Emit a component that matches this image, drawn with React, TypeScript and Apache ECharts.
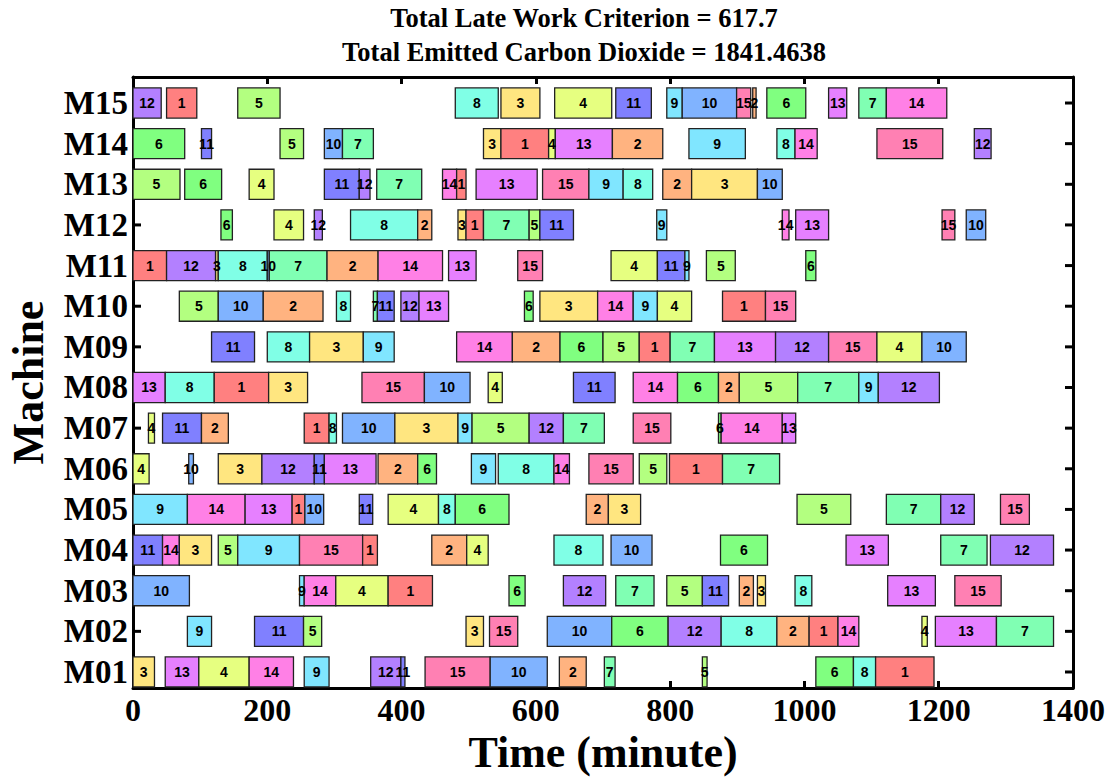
import React, { useEffect, useRef } from "react";
import * as echarts from "echarts";

// Each entry: [job, start (min), end (min)]
const M01 = [[3,0,32],[13,48,98],[4,98,173],[14,173,239],[9,255,292],[12,354,399],[11,399,405],[15,435,532],[10,532,617],[2,635,675],[7,702,718],[5,848,855],[6,1017,1073],[8,1073,1106],[1,1106,1193]];
const M02 = [[9,81,117],[11,181,254],[5,254,281],[3,496,522],[15,531,573],[10,617,713],[6,713,797],[12,797,876],[8,876,959],[2,959,1007],[1,1007,1050],[14,1050,1081],[4,1175,1183],[13,1195,1286],[7,1286,1371]];
const M03 = [[10,0,84],[9,248,255],[14,255,302],[4,302,380],[1,380,446],[6,560,584],[12,641,704],[7,719,776],[5,795,848],[11,848,887],[2,903,924],[3,930,942],[8,986,1011],[13,1124,1195],[15,1224,1293]];
const M04 = [[11,0,44],[14,44,69],[3,69,117],[5,127,156],[9,156,248],[15,248,342],[1,342,364],[2,445,497],[4,497,529],[8,627,700],[10,712,773],[6,875,945],[13,1062,1125],[7,1203,1272],[12,1277,1371]];
const M05 = [[9,0,81],[14,81,167],[13,167,237],[1,237,256],[10,256,284],[11,337,357],[4,380,455],[8,455,480],[6,480,560],[2,675,708],[3,708,756],[5,989,1069],[7,1122,1203],[12,1203,1253],[15,1292,1335]];
const M06 = [[4,0,24],[10,83,90],[3,127,192],[12,192,270],[11,270,285],[13,285,362],[2,365,424],[6,424,452],[9,504,540],[8,544,627],[14,627,650],[15,679,745],[5,754,795],[1,799,878],[7,878,963]];
const M07 = [[4,23,32],[11,44,102],[2,102,142],[1,255,292],[8,292,303],[10,312,390],[3,390,484],[9,484,505],[5,505,590],[12,590,641],[7,641,702],[15,745,801],[6,872,876],[14,876,967],[13,967,987]];
const M08 = [[13,0,48],[8,48,121],[1,121,202],[3,202,260],[15,341,434],[10,434,502],[4,529,550],[11,656,718],[14,745,811],[6,811,872],[2,872,903],[5,903,990],[7,990,1081],[9,1081,1110],[12,1110,1201]];
const M09 = [[11,117,181],[8,200,263],[3,263,343],[9,343,389],[14,482,565],[2,565,636],[6,636,700],[5,700,754],[1,754,800],[7,800,866],[13,866,957],[12,957,1036],[15,1036,1108],[4,1108,1175],[10,1175,1241]];
const M10 = [[5,69,127],[10,127,194],[2,194,283],[8,303,324],[7,358,364],[11,364,389],[12,399,426],[13,426,470],[6,583,596],[3,606,692],[14,692,745],[9,745,781],[4,781,832],[1,878,942],[15,942,987]];
const M11 = [[1,0,50],[12,50,123],[3,123,127],[8,127,200],[10,200,203],[7,203,289],[2,289,365],[14,365,461],[13,470,511],[15,573,610],[4,712,781],[11,781,822],[9,822,828],[5,854,897],[6,1002,1017]];
const M12 = [[6,131,148],[4,210,254],[12,270,282],[8,324,424],[2,424,445],[3,484,496],[1,496,522],[7,522,590],[5,590,606],[11,606,656],[9,780,795],[14,967,977],[13,987,1036],[15,1205,1224],[10,1241,1270]];
const M13 = [[5,0,70],[6,77,132],[4,173,210],[11,285,337],[12,337,353],[7,363,430],[14,461,482],[1,482,496],[13,511,602],[15,610,679],[9,679,730],[8,730,774],[2,789,832],[3,832,930],[10,930,967]];
const M14 = [[6,0,77],[11,102,117],[5,219,254],[10,285,312],[7,312,358],[3,522,548],[1,548,619],[4,619,629],[13,629,714],[2,714,789],[9,828,912],[8,959,986],[14,986,1019],[15,1108,1206],[12,1253,1278]];
const M15 = [[12,0,42],[1,50,95],[5,156,219],[8,480,544],[3,548,606],[4,628,713],[11,719,772],[9,795,818],[10,818,899],[15,899,920],[2,923,928],[6,944,1002],[13,1036,1063],[7,1081,1122],[14,1122,1212]];

const MACHINES = [M01, M02, M03, M04, M05, M06, M07, M08, M09, M10, M11, M12, M13, M14, M15];
const MACHINE_LABELS = ["M01","M02","M03","M04","M05","M06","M07","M08","M09","M10","M11","M12","M13","M14","M15"];
const MACHINE_POS = [1,2,3,4,5,6,7,8,9,10,11,12,13,14,15];
const X_MIN = 0;
const X_MAX = 1400;

const JOB_COLORS = ["#FF8080","#FFB380","#FFE680","#E6FF80","#B3FF80","#80FF80","#80FFB3","#80FFE6","#80E6FF","#80B3FF","#8080FF","#B380FF","#E680FF","#FF80E6","#FF80B3"];

const TITLE_1 = "Total Late Work Criterion = 617.7";
const TITLE_2 = "Total Emitted Carbon Dioxide = 1841.4638";

const SERIF = "'Liberation Serif', 'Times New Roman', serif";
const BAR_H = 0.74;

export default function App() {
  const ref = useRef<HTMLDivElement>(null);
  useEffect(() => {
    if (!ref.current) return;
    const chart = echarts.init(ref.current, null, { renderer: "svg" });
    const data: number[][] = [];
    MACHINES.forEach((rows, i) => {
      rows.forEach((r) => data.push([MACHINE_POS[i], r[1], r[2], r[0]]));
    });

    const yBase = {
      type: "value" as const,
      min: 0.606,
      max: 15.64,
      splitLine: { show: false },
      axisLine: { show: true, onZero: false, lineStyle: { color: "#000", width: 3 } },
      axisTick: { show: false },
    };
    const xBase = {
      type: "value" as const,
      min: X_MIN,
      max: X_MAX,
      interval: 200,
      splitLine: { show: false },
      axisLine: { show: true, onZero: false, lineStyle: { color: "#000", width: 3 } },
      axisTick: { show: true, inside: true, length: 7, lineStyle: { width: 3, color: "#000" } },
    };

    chart.setOption({
      animation: false,
      backgroundColor: "#fff",
      grid: { left: 133, right: 40, top: 77, bottom: 90, containLabel: false, outerBoundsMode: "none" },
      graphic: [
        { type: "text", x: 584, y: 4, style: { text: TITLE_1, font: `bold 26.5px ${SERIF}`, fill: "#000", align: "center" } },
        { type: "text", x: 584, y: 38, style: { text: TITLE_2, font: `bold 26.5px ${SERIF}`, fill: "#000", align: "center" } },
      ],
      xAxis: [
        {
          ...xBase,
          position: "bottom",
          name: "Time (minute)",
          nameLocation: "middle",
          nameGap: 39,
          nameTextStyle: { fontFamily: SERIF, fontWeight: "bold", fontSize: 44, color: "#000" },
          axisLabel: { fontFamily: SERIF, fontWeight: "bold", fontSize: 32, color: "#000", margin: 6, formatter: (v: number) => String(v) },
        },
        { ...xBase, position: "top", axisLabel: { show: false } },
      ],
      yAxis: [
        {
          ...yBase,
          position: "left",
          name: "Machine",
          nameLocation: "middle",
          nameGap: 83,
          nameTextStyle: { fontFamily: SERIF, fontWeight: "bold", fontSize: 44, color: "#000" },
          axisLabel: {
            fontFamily: SERIF, fontWeight: "bold", fontSize: 33, color: "#000", margin: 5,
            customValues: MACHINE_POS,
            formatter: (v: number) => MACHINE_LABELS[Math.round(v) - 1] ?? "",
          },
        },
        { ...yBase, position: "right", axisLabel: { show: false } },
      ],
      series: [
        {
          // inward y-axis ticks on left and right frame edges (drawn beneath the bars)
          type: "custom",
          xAxisIndex: 0,
          yAxisIndex: 0,
          clip: false,
          silent: true,
          z: 1,
          data: MACHINE_POS.map((v) => [v]),
          renderItem: (params: any, api: any) => {
            const y = api.value(0);
            const l = api.coord([X_MIN, y]);
            const r = api.coord([X_MAX, y]);
            return {
              type: "group",
              children: [
                { type: "line", shape: { x1: l[0], y1: l[1], x2: l[0] + 8, y2: l[1] }, style: { stroke: "#000", lineWidth: 3 } },
                { type: "line", shape: { x1: r[0], y1: r[1], x2: r[0] - 8, y2: r[1] }, style: { stroke: "#000", lineWidth: 3 } },
              ],
            };
          },
        },
        {
          type: "custom",
          xAxisIndex: 0,
          yAxisIndex: 0,
          clip: false,
          z: 2,
          data,
          renderItem: (params: any, api: any) => {
            const y = api.value(0);
            const s = api.value(1);
            const e = api.value(2);
            const job = api.value(3);
            const p0 = api.coord([s, y]);
            const p1 = api.coord([e, y]);
            const h = api.size([0, BAR_H])[1];
            return {
              type: "rect",
              shape: { x: p0[0], y: p0[1] - h / 2, width: p1[0] - p0[0], height: h },
              style: { fill: JOB_COLORS[job - 1], stroke: "#222", lineWidth: 1.3 },
            };
          },
        },
        {
          type: "custom",
          xAxisIndex: 0,
          yAxisIndex: 0,
          clip: false,
          z: 3,
          data,
          renderItem: (params: any, api: any) => {
            const y = api.value(0);
            const s = api.value(1);
            const e = api.value(2);
            const job = api.value(3);
            const p = api.coord([(s + e) / 2, y]);
            return {
              type: "text",
              x: p[0],
              y: p[1],
              style: {
                text: String(job),
                font: "bold 14px 'Liberation Sans', Arial, sans-serif",
                fill: "#000",
                align: "center",
                verticalAlign: "middle",
              },
            };
          },
        },
      ],
    });
    return () => chart.dispose();
  }, []);
  return <div ref={ref} style={{ position: "fixed", left: 0, top: 0, width: 1113, height: 778 }} />;
}
